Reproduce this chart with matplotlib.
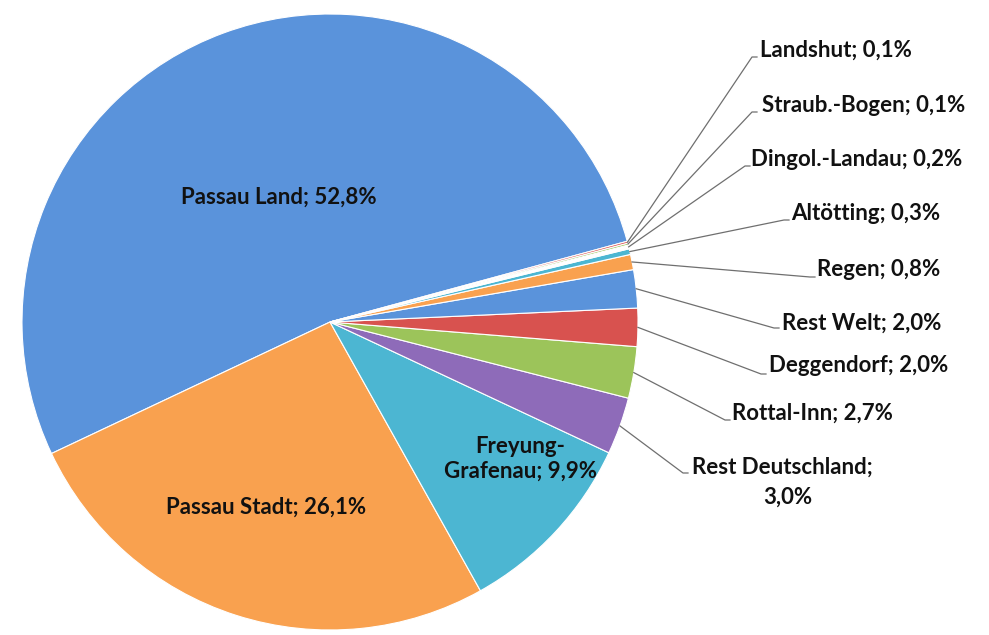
import numpy as np
import matplotlib
matplotlib.use("Agg")
import matplotlib.pyplot as plt

labels = ['Passau Land', 'Passau Stadt', 'Freyung-\nGrafenau', 'Rest Deutschland;\n',
          'Rottal-Inn', 'Deggendorf', 'Rest Welt', 'Regen', 'Altötting',
          'Dingol.-Landau', 'Straub.-Bogen', 'Landshut']
values = [52.8, 26.1, 9.9, 3.0, 2.7, 2.0, 2.0, 0.8, 0.3, 0.2, 0.1, 0.1]
colors = ['#5a93db', '#f9a14f', '#4cb6d2', '#8e6bb9', '#9cc45a', '#d8524f',
          '#5a93db', '#f9a14f', '#4cb6d2', '#ffffff', '#9cc45a', '#d8524f']

plt.rcParams['font.family'] = ['Lato', 'DejaVu Sans']

fig = plt.figure(figsize=(9.89, 6.35), dpi=100)
ax = fig.add_axes([0, 0, 1, 1])
H = 635
cx, cy, r = 330, H - 322, 308
start = 15.2

wedges, _ = ax.pie(values, colors=colors, startangle=start, counterclock=True,
                   center=(cx, cy), radius=r, frame=True,
                   wedgeprops=dict(edgecolor='white', linewidth=0.8))
ax.set_xlim(0, 989)
ax.set_ylim(0, H)
ax.set_aspect('equal')
ax.axis('off')

def fmt(v):
    return f"{v:.1f}".replace('.', ',') + '%'

txt = dict(fontsize=16, fontweight='bold', color='#111111')

# inside labels
inside = {0: (279, 197), 1: (266, 507), 2: (520, 459)}
for i, (x, y) in inside.items():
    s = labels[i] + '; ' + fmt(values[i])
    ax.text(x, H - y, s, ha='center', va='center', linespacing=1.25, **txt)

# outside labels: text anchor (left x, y) and leader line end
outside = {
    11: (760, 50, 752, 57),
    10: (762, 105, 752, 112),
    9: (751, 159, 745, 166),
    8: (791, 213, 784, 220),
    7: (817, 270, 810, 277),
    6: (782, 323, 774, 328),
    5: (769, 366, 761, 374),
    4: (732, 413, 725, 420),
    3: (692, 467, 683, 473),
}
for i, (tx, ty, lx, ly) in outside.items():
    w = wedges[i]
    mid = np.deg2rad((w.theta1 + w.theta2) / 2)
    sx, sy = cx + r * np.cos(mid), cy + r * np.sin(mid)
    ax.plot([sx, lx, lx + 5], [sy, H - ly, H - ly], color='#6f6f6f', lw=0.9)
    if i == 3:
        ax.text(tx, H - ty, 'Rest Deutschland;', ha='left', va='center', **txt)
        ax.text(tx + 96, H - ty - 30, fmt(values[i]), ha='center', va='center', **txt)
    else:
        ax.text(tx, H - ty, labels[i] + '; ' + fmt(values[i]), ha='left', va='center', **txt)

fig.savefig('out.png', dpi=100, facecolor='white')
